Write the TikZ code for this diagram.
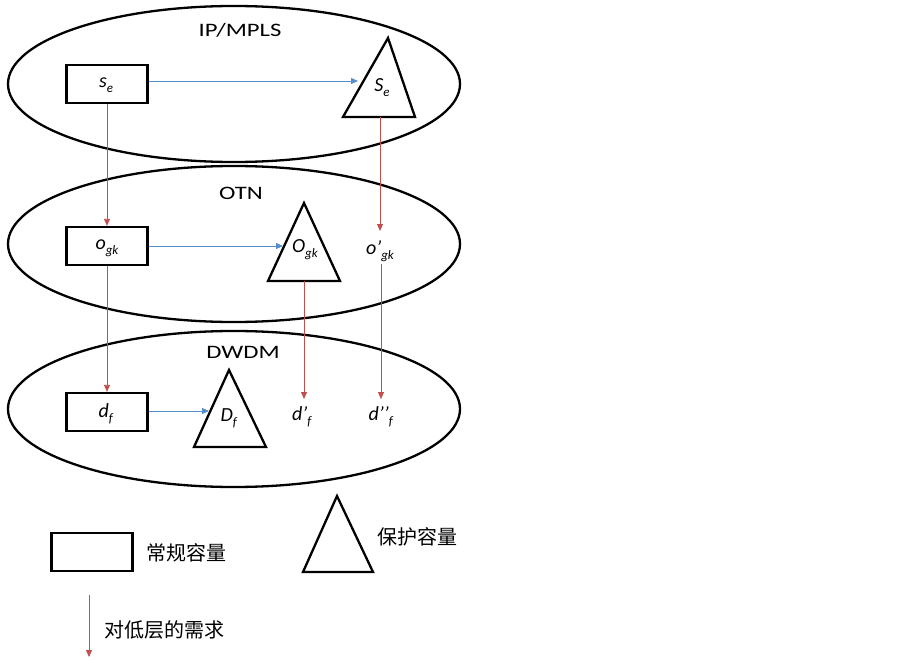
\documentclass[tikz,border=0pt]{standalone}
\usepackage{fontspec}
\setmainfont{Carlito}
\newfontfamily\titlefont{Carlito}[FakeStretch=1.3]
\newfontfamily\cjk{Noto Sans CJK SC}
\usetikzlibrary{arrows.meta}
\definecolor{redarr}{RGB}{192,80,77}
\definecolor{bluearr}{RGB}{85,142,205}
\newcommand{\sbx}[1]{\raisebox{-5pt}{\fontsize{13}{13}\selectfont\textit{#1}}}
\newcommand{\lbl}[2]{\textit{#1}\sbx{#2}}
\tikzset{
  layer/.style={draw=black,line width=2.3pt},
  cap box/.style={draw=black,line width=2.3pt,minimum width=81pt,minimum height=38pt,inner sep=0pt},
  tri/.style={draw=black,line width=2.3pt,line join=miter},
  var/.style={font=\fontsize{20}{20}\selectfont,inner sep=0pt},
  title/.style={font=\titlefont\fontsize{19}{19}\selectfont,inner sep=0pt},
  legendtxt/.style={font=\cjk\fontsize{20}{20}\selectfont,inner sep=0pt,anchor=west},
  down/.style={draw=redarr,line width=0.8pt,-{Triangle[length=7pt,width=6pt]}},
  across/.style={draw=bluearr,line width=0.8pt,-{Triangle[length=7pt,width=6pt]}}
}
\begin{document}
\begin{tikzpicture}[x=1pt,y=-1pt]
\useasboundingbox (0,0) rectangle (903,661);
% layers
\draw[layer] (234,84) ellipse [x radius=226, y radius=78];
\draw[layer] (234,244) ellipse [x radius=226, y radius=78];
\draw[layer] (234,409) ellipse [x radius=226, y radius=78];
\node[title] (tip) at (240,30) {IP/MPLS};
\node[title] (totn) at (241,193) {OTN};
\node[title] (tdw) at (243,352) {DWDM};
% regular capacity boxes
\node[cap box] (se) at (107,84) {};
\node[var] at (106,85) {\lbl{s}{e}};
\node[cap box] (og) at (107,246) {};
\node[var] at (107,248) {\lbl{o}{gk}};
\node[cap box] (df) at (107,412) {};
\node[var] at (106,414) {\lbl{d}{f}};
% protection triangles
\coordinate (SeA) at (388,38); \coordinate (SeL) at (343,117); \coordinate (SeR) at (415,117);
\draw[tri] (SeA) -- (SeL) -- (SeR) -- cycle;
\node[var] (Se) at (382,88) {\lbl{S}{e}};
\coordinate (OgA) at (304,203); \coordinate (OgL) at (268,281); \coordinate (OgR) at (340,281);
\draw[tri] (OgA) -- (OgL) -- (OgR) -- cycle;
\node[var] (Og) at (305,250) {\lbl{O}{gk}};
\coordinate (DfA) at (229,370); \coordinate (DfL) at (194,447); \coordinate (DfR) at (266,447);
\draw[tri] (DfA) -- (DfL) -- (DfR) -- cycle;
\node[var] (Df) at (229,418) {\lbl{D}{f}};
% derived demands
\node[var] (op) at (380,251) {\textit{o’}\sbx{gk}};
\node[var] (dp) at (302,417) {\textit{d’}\sbx{f}};
\node[var] (dpp) at (381,417) {\textit{d’’}\sbx{f}};
% blue arrows
\coordinate (SeIn) at (358,81);
\coordinate (OgIn) at (283,246);
\coordinate (DfIn) at (209,411);
\draw[across] (se.east |- SeIn) -- (SeIn);
\draw[across] (og.east) -- (OgIn);
\draw[across] (df.east |- DfIn) -- (DfIn);
% red arrows
\draw[down] (se.south) -- (og.north);
\draw[down] (og.south) -- (df.north);
\coordinate (opTop) at (380,231);
\draw[down] (380,117) -- (opTop);
\coordinate (dpTop) at (304,399);
\draw[down] (304,281) -- (dpTop);
\coordinate (dppTop) at (381,399);
\draw[down] (381,264) -- (dppTop);
% legend
\node[cap box] (lbox) at (92,552) {};
\node[legendtxt] (lboxt) at (146,553) {常规容量};
\coordinate (LtA) at (337,496); \coordinate (LtL) at (303,572); \coordinate (LtR) at (373,572);
\draw[tri] (LtA) -- (LtL) -- (LtR) -- cycle;
\node[legendtxt] (ltrit) at (377,537) {保护容量};
\coordinate (larrS) at (89,595); \coordinate (larrE) at (89,657);
\draw[down] (larrS) -- (larrE);
\node[legendtxt] (larrt) at (104,630) {对低层的需求};
\end{tikzpicture}
\end{document}
